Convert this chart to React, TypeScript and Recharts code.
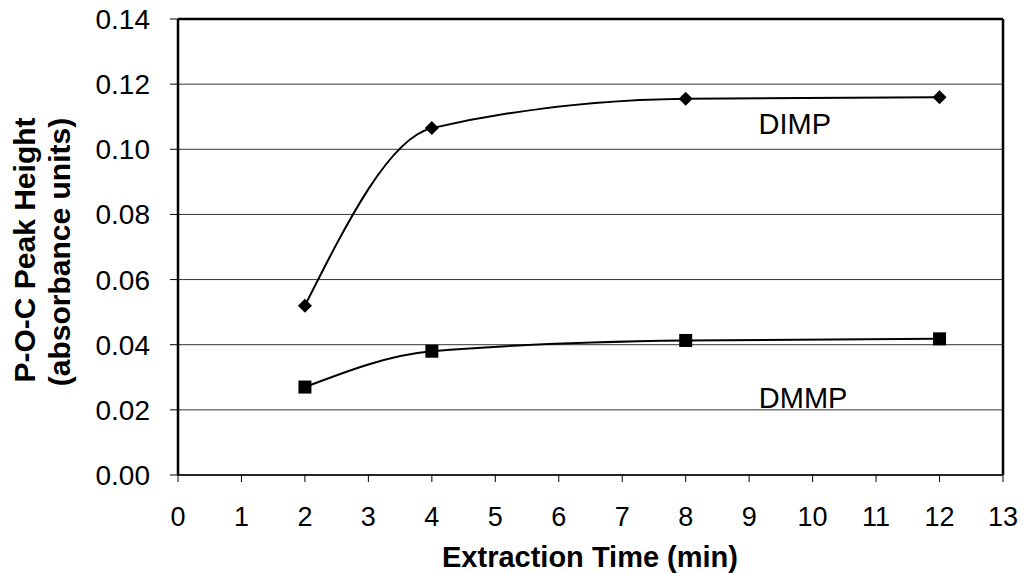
import { LineChart, Line, XAxis, YAxis, CartesianGrid, ReferenceLine, ReferenceDot } from 'recharts'

const times = [2, 4, 8, 12]
const dimp = [0.052, 0.1065, 0.1155, 0.116]
const dmmp = [0.027, 0.038, 0.0413, 0.0418]
const xTicks = [0, 1, 2, 3, 4, 5, 6, 7, 8, 9, 10, 11, 12, 13]
const yTicks = [0, 0.02, 0.04, 0.06, 0.08, 0.1, 0.12, 0.14]

const data = times.map((t, i) => ({ t, dimp: dimp[i], dmmp: dmmp[i] }))

const font = 'Arial, "Liberation Sans", sans-serif'

const Diamond = (props: any) => {
  const { cx, cy } = props
  if (cx == null || cy == null) return null
  return <path d={`M${cx},${cy - 7}L${cx + 7},${cy}L${cx},${cy + 7}L${cx - 7},${cy}Z`} fill="#000" />
}

const Square = (props: any) => {
  const { cx, cy } = props
  if (cx == null || cy == null) return null
  return <rect x={cx - 6.5} y={cy - 6.5} width={13} height={13} fill="#000" />
}

export default function App() {
  return (
    <div style={{ width: 1023, height: 573 }}>
      <style>{`body{margin:0}`}</style>
      <LineChart width={1023} height={573} data={data} margin={{ top: 19, right: 20, bottom: 0, left: 0 }}>
        <CartesianGrid vertical={false} stroke="#333" strokeWidth={1} />
        <XAxis
          type="number"
          dataKey="t"
          domain={[0, 13]}
          ticks={xTicks}
          interval={0}
          height={98}
          tickSize={7}
          tickMargin={25}
          axisLine={{ stroke: '#000', strokeWidth: 1.5 }}
          tickLine={{ stroke: '#000' }}
          tick={{ fill: '#000', fontSize: 27, fontFamily: font }}
          label={{
            content: () => (
              <text x={590} y={567} textAnchor="middle" fontFamily={font} fontWeight="bold" fontSize={29} fill="#000">
                Extraction Time (min)
              </text>
            ),
          }}
        />
        <YAxis
          type="number"
          domain={[0, 0.14]}
          ticks={yTicks}
          interval={0}
          width={178}
          tickSize={8}
          tickMargin={20}
          tickFormatter={(v: number) => v.toFixed(2)}
          axisLine={{ stroke: '#000', strokeWidth: 2.5 }}
          tickLine={{ stroke: '#000' }}
          tick={{ fill: '#000', fontSize: 28, fontFamily: font }}
          label={{
            content: () => (
              <g fontFamily={font} fontWeight="bold" fontSize={30} fill="#000">
                <text x={35} y={250} textAnchor="middle" transform="rotate(-90 35 250)">
                  P-O-C Peak Height
                </text>
                <text x={70} y={252} textAnchor="middle" transform="rotate(-90 70 252)">
                  (absorbance units)
                </text>
              </g>
            ),
          }}
        />
        <ReferenceLine y={0.14} stroke="#000" strokeWidth={2.5} />
        <ReferenceLine x={13} stroke="#000" strokeWidth={2.5} />
        <Line
          type="monotone"
          dataKey="dimp"
          stroke="#000"
          strokeWidth={2}
          dot={<Diamond />}
          activeDot={false}
          isAnimationActive={false}
        />
        <Line
          type="monotone"
          dataKey="dmmp"
          stroke="#000"
          strokeWidth={2}
          dot={<Square />}
          activeDot={false}
          isAnimationActive={false}
        />
        <ReferenceDot
          x={9.72}
          y={0.1078}
          r={0}
          fill="none"
          stroke="none"
          label={{ value: 'DIMP', position: 'center', fontSize: 29, fill: '#000', fontFamily: font }}
        />
        <ReferenceDot
          x={9.85}
          y={0.0236}
          r={0}
          fill="none"
          stroke="none"
          label={{ value: 'DMMP', position: 'center', fontSize: 29, fill: '#000', fontFamily: font }}
        />
      </LineChart>
    </div>
  )
}
